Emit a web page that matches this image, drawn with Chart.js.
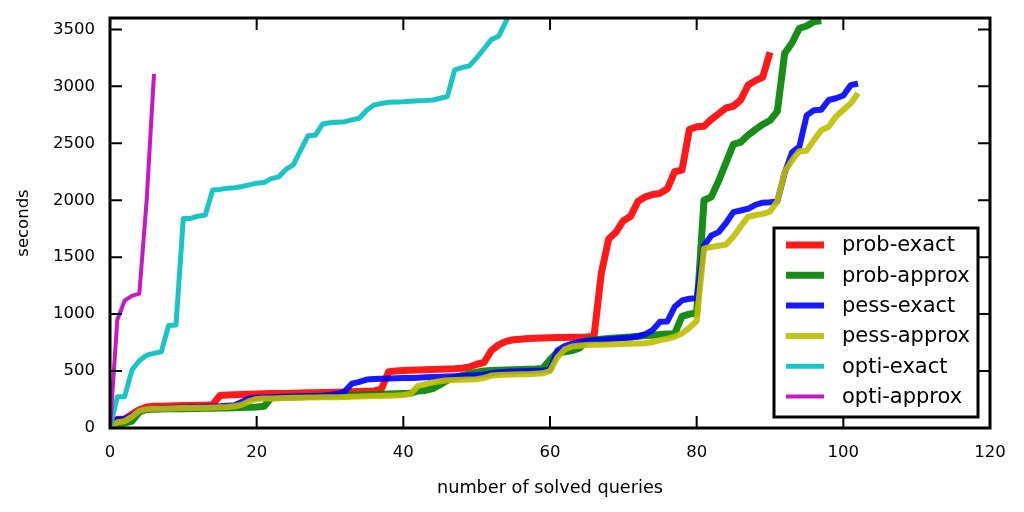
<!DOCTYPE html>
<html>
<head>
<meta charset="utf-8">
<script src="https://cdn.jsdelivr.net/npm/chart.js@4.4.0/dist/chart.umd.min.js"></script>
<style>
  html, body { margin: 0; padding: 0; background: #fff; }
  #wrap { width: 1024px; height: 512px; }
</style>
</head>
<body>
<div id="wrap"><canvas id="myChart"></canvas></div>
<script>
// series names, in plotting order
const seriesNames = ["prob-exact", "prob-approx", "pess-exact", "pess-approx", "opti-exact", "opti-approx"];

// seconds needed for the n-th solved query (index = number of solved queries)
const probExact = [0, 75, 80, 120, 160, 185, 190, 192, 194, 195, 197, 198, 199, 200, 205, 285, 290, 292, 294, 296,
  298, 300, 302, 303, 304, 306, 308, 309, 310, 311, 312, 314, 316, 318, 320, 322, 325, 340, 495, 500,
  505, 508, 510, 512, 514, 516, 518, 520, 525, 535, 560, 575, 680, 730, 760, 775, 780, 785, 788, 790,
  792, 794, 795, 796, 797, 800, 805, 1360, 1660, 1720, 1820, 1860, 1990, 2030, 2050, 2060, 2100, 2250, 2265, 2620,
  2645, 2650, 2710, 2760, 2810, 2825, 2880, 3010, 3050, 3080, 3300];
const probApprox = [0, 40, 42, 60, 140, 162, 165, 167, 168, 169, 170, 171, 172, 173, 174, 175, 176, 178, 180, 182,
  185, 190, 265, 268, 270, 272, 274, 276, 278, 280, 282, 284, 286, 288, 290, 292, 294, 296, 298, 300,
  302, 305, 325, 330, 345, 380, 420, 440, 460, 475, 490, 500, 505, 508, 510, 512, 514, 516, 518, 522,
  600, 665, 668, 680, 700, 770, 775, 780, 785, 790, 795, 800, 805, 812, 815, 820, 825, 828, 980, 1000,
  1010, 2000, 2030, 2170, 2330, 2490, 2510, 2570, 2620, 2665, 2700, 2780, 3290, 3380, 3510, 3530, 3570, 3575];
const pessExact = [0, 75, 80, 110, 150, 165, 170, 172, 175, 177, 180, 182, 184, 186, 188, 190, 195, 200, 230, 260,
  265, 268, 270, 272, 274, 276, 278, 280, 282, 284, 290, 300, 320, 390, 405, 425, 430, 432, 434, 436,
  438, 440, 442, 445, 448, 450, 452, 455, 458, 462, 466, 470, 480, 490, 495, 496, 498, 500, 503, 506,
  512, 680, 720, 740, 755, 765, 770, 775, 780, 785, 790, 795, 805, 825, 860, 933, 935, 1064, 1120, 1135,
  1140, 1600, 1690, 1720, 1800, 1895, 1910, 1925, 1960, 1978, 1982, 1988, 2240, 2420, 2470, 2745, 2790, 2795, 2880, 2895,
  2920, 3010, 3025];
const pessApprox = [0, 50, 60, 100, 150, 165, 168, 170, 172, 174, 175, 176, 177, 178, 180, 182, 185, 190, 205, 235,
  255, 258, 260, 262, 264, 265, 266, 267, 268, 269, 270, 271, 272, 274, 276, 278, 280, 282, 284, 286,
  290, 300, 370, 385, 400, 410, 420, 422, 424, 426, 428, 440, 460, 465, 467, 469, 471, 473, 476, 480,
  500, 620, 690, 715, 722, 728, 730, 732, 734, 736, 738, 740, 742, 744, 755, 772, 785, 801, 830, 880,
  940, 1576, 1590, 1600, 1610, 1680, 1770, 1855, 1868, 1880, 1900, 1990, 2250, 2350, 2430, 2435, 2530, 2615, 2645, 2735,
  2795, 2850, 2940];
const optiExact = [0, 275, 275, 510, 590, 640, 655, 670, 900, 905, 1840, 1840, 1860, 1870, 2090, 2095, 2105, 2110, 2120, 2135,
  2150, 2155, 2190, 2205, 2270, 2310, 2440, 2566, 2570, 2670, 2680, 2685, 2690, 2705, 2720, 2790, 2836, 2850, 2860, 2862,
  2865, 2870, 2873, 2875, 2880, 2895, 2910, 3145, 3165, 3180, 3250, 3330, 3410, 3440, 3570, 3700];
const optiApprox = [0, 950, 1120, 1160, 1180, 2000, 3110];

const seriesValues = [probExact, probApprox, pessExact, pessApprox, optiExact, optiApprox];
const seriesColors = ["rgba(255,0,0,0.9)", "rgba(0,128,0,0.9)", "rgba(0,0,255,0.9)",
  "rgba(191,191,0,0.9)", "rgba(0,191,191,0.9)", "rgba(191,0,191,0.9)"];
const seriesWidths = [7, 7, 6, 6, 5, 4];

const xTicks = [0, 20, 40, 60, 80, 100, 120];
const yTicks = [0, 500, 1000, 1500, 2000, 2500, 3000, 3500];

const FONT = "'DejaVu Sans', sans-serif";

const datasets = seriesNames.map((name, i) => ({
  label: name,
  data: seriesValues[i].map((v, n) => ({ x: n, y: v })),
  borderColor: seriesColors[i],
  backgroundColor: seriesColors[i],
  borderWidth: seriesWidths[i],
  borderJoinStyle: "round",
  pointRadius: 0,
  tension: 0,
  fill: false,
  clip: 0,
  order: -i, // later series on top, like matplotlib
}));

// matplotlib style frame with inward ticks on all four sides
const frame = {
  id: "frame",
  afterDraw(chart) {
    const ctx = chart.ctx;
    const a = chart.chartArea;
    const xs = chart.scales.x, ys = chart.scales.y;
    const len = 12;
    ctx.save();
    ctx.strokeStyle = "#000";
    ctx.lineWidth = 2;
    ctx.beginPath();
    xTicks.forEach((t) => {
      const px = xs.getPixelForValue(t);
      ctx.moveTo(px, a.bottom); ctx.lineTo(px, a.bottom - len);
      ctx.moveTo(px, a.top); ctx.lineTo(px, a.top + len);
    });
    yTicks.forEach((t) => {
      const py = ys.getPixelForValue(t);
      ctx.moveTo(a.left, py); ctx.lineTo(a.left + len, py);
      ctx.moveTo(a.right, py); ctx.lineTo(a.right - len, py);
    });
    ctx.stroke();
    ctx.lineWidth = 3;
    ctx.strokeRect(a.left, a.top, a.right - a.left, a.bottom - a.top);
    ctx.restore();
  },
};

// boxed legend in the lower right corner
const boxLegend = {
  id: "boxLegend",
  afterDraw(chart) {
    const ctx = chart.ctx;
    const a = chart.chartArea;
    const w = 204, h = 189;
    const x0 = a.right - 12 - w, y0 = a.bottom - 11 - h;
    ctx.save();
    ctx.fillStyle = "#fff";
    ctx.fillRect(x0, y0, w, h);
    ctx.strokeStyle = "#000";
    ctx.lineWidth = 3;
    ctx.strokeRect(x0, y0, w, h);
    ctx.font = "21px " + FONT;
    ctx.textBaseline = "middle";
    chart.data.datasets.forEach((ds, i) => {
      const cy = y0 + 17 + i * 30.3;
      ctx.strokeStyle = ds.borderColor;
      ctx.lineWidth = ds.borderWidth;
      ctx.beginPath();
      ctx.moveTo(x0 + 12, cy);
      ctx.lineTo(x0 + 50, cy);
      ctx.stroke();
      ctx.fillStyle = "#000";
      ctx.fillText(ds.label, x0 + 68, cy + 1);
    });
    ctx.restore();
  },
};

const config = {
  type: "line",
  data: { datasets: datasets },
  options: {
    responsive: true,
    maintainAspectRatio: false,
    devicePixelRatio: 1,
    animation: false,
    events: [],
    layout: { padding: { top: 18, right: 34, left: 0, bottom: 0 } },
    scales: {
      x: {
        type: "linear",
        min: 0,
        max: 120,
        afterBuildTicks: (s) => { s.ticks = xTicks.map((v) => ({ value: v })); },
        afterFit: (s) => { s.height = 84; s.paddingLeft = 0; s.paddingRight = 0; },
        grid: { display: false, drawTicks: false },
        border: { display: false },
        ticks: { color: "#000", font: { family: FONT, size: 16.5 }, padding: 15, maxRotation: 0,
          callback: (v) => String(v) },
        title: { display: true, text: "number of solved queries", color: "#000",
          font: { family: FONT, size: 17.7 }, padding: { top: 0, bottom: 13 } },
      },
      y: {
        type: "linear",
        min: 0,
        max: 3600,
        afterBuildTicks: (s) => { s.ticks = yTicks.map((v) => ({ value: v })); },
        afterFit: (s) => { s.width = 110; s.paddingTop = 0; s.paddingBottom = 0; },
        grid: { display: false, drawTicks: false },
        border: { display: false },
        ticks: { color: "#000", font: { family: FONT, size: 16.5 }, padding: 15,
          callback: (v) => String(v) },
        title: { display: true, text: "seconds", color: "#000",
          font: { family: FONT, size: 16.5 }, padding: { top: 14, bottom: 14 } },
      },
    },
    plugins: {
      legend: { display: false },
      tooltip: { enabled: false },
    },
  },
  plugins: [frame, boxLegend],
};

const ctx = document.getElementById("myChart").getContext("2d");
const myChart = new Chart(ctx, config);
</script>
</body>
</html>
